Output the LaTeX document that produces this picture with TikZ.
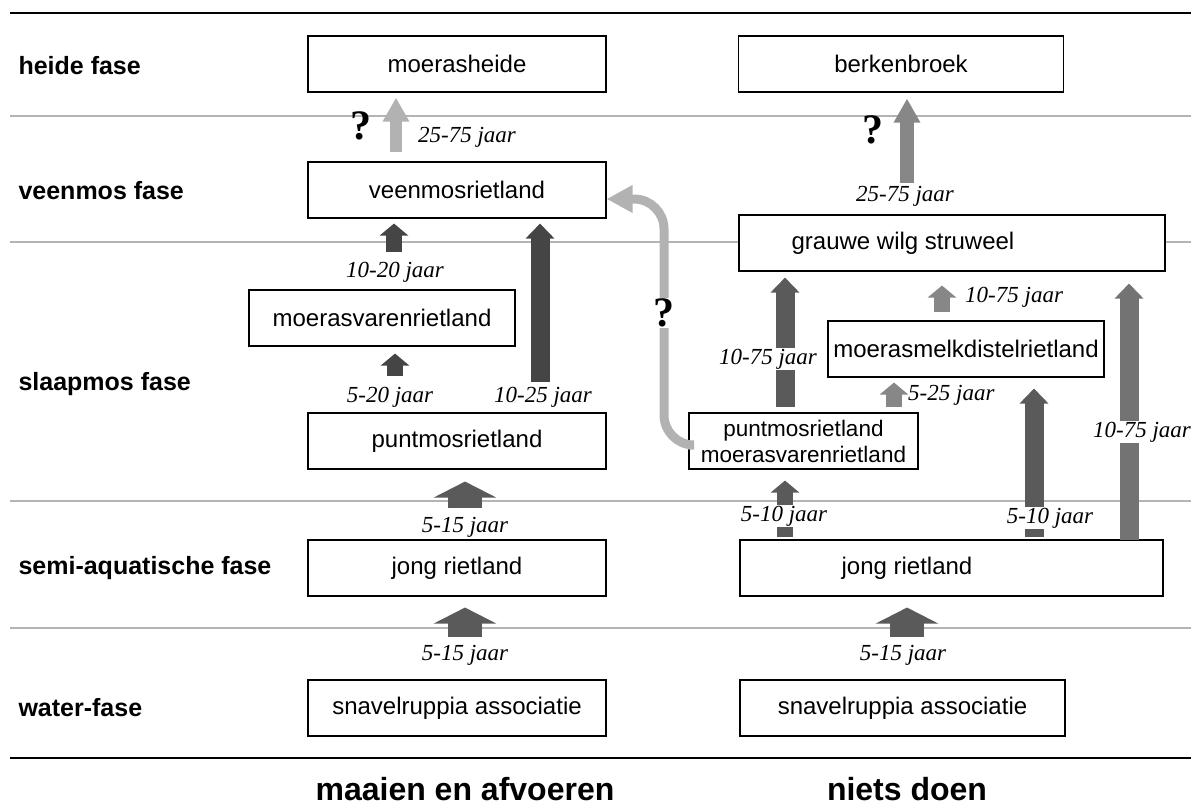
\documentclass[tikz,border=0pt]{standalone}
\usepackage{fontspec}
\setmainfont{Liberation Serif}
\setsansfont{Liberation Sans}
\usetikzlibrary{arrows.meta,calc,positioning}
\definecolor{phaseline}{HTML}{B4B4B4}
\definecolor{arrblack}{HTML}{454545}
\definecolor{arrdark}{HTML}{5A5A5A}
\definecolor{arrmid}{HTML}{878787}
\definecolor{arrpale}{HTML}{B2B2B2}

\begin{document}
\begin{tikzpicture}[x=1pt,y=-1pt,
  box/.style={draw=black,line width=1.1pt,fill=white,inner sep=0pt,minimum height=56pt,
    font=\sffamily\fontsize{24}{28}\selectfont},
  boxtext/.style={font=\sffamily\fontsize{24}{28}\selectfont,inner sep=0pt},
  phase/.style={anchor=west,font=\sffamily\bfseries\fontsize{25}{30}\selectfont},
  title/.style={font=\sffamily\bfseries\fontsize{32}{36}\selectfont},
  yrs/.style={font=\itshape\fontsize{23}{27}\selectfont,inner sep=1pt},
  yrscut/.style={yrs,fill=white},
  qmark/.style={font=\bfseries\fontsize{42}{46}\selectfont,inner sep=1pt},
  wide/.style={-{Triangle[width=62pt,length=16pt]},line width=34pt},
  stub/.style={-{Triangle[width=28pt,length=12pt]},line width=16pt},
  tall/.style={-{Triangle[width=28pt,length=15pt]},line width=19pt},
  needle/.style={-{Triangle[width=25pt,length=24pt]},line width=12pt},
  sweep/.style={-{Triangle[width=26pt,length=26pt]},line width=9pt,rounded corners=30pt}]
  \useasboundingbox (0,0) rectangle (1191,808);

  % rules and phase lines
  \draw[line width=2.2pt] (10,13) -- (1191,13);
  \draw[line width=2.2pt] (10,758) -- (1191,758);
  \foreach \y in {116,242,501,628}
    \draw[phaseline,line width=1.3pt] (10,\y) -- (1191,\y);

  % phases
  \node[phase] (heide) at (15,66) {heide fase};
  \node[phase] (veen) at (15,191) {veenmos fase};
  \node[phase] (slaap) at (15,384) {slaapmos fase};
  \node[phase] (semi) at (15,568) {semi-aquatische fase};
  \node[phase] (water) at (15,708) {water-fase};

  % left column: maaien en afvoeren
  \node[box,minimum width=298pt] (heath) at (457,64) {moerasheide};
  \node[box,minimum width=298pt] (sphag) at (457,190) {veenmosrietland};
  \node[box,minimum width=266pt] (fern) at (382,318) {moerasvarenrietland};
  \node[box,minimum width=298pt] (calli) at (457,441) {puntmosrietland};
  \node[box,minimum width=298pt] (reedL) at (457,568) {jong rietland};
  \node[box,minimum width=298pt] (ruppL) at (457,708) {snavelruppia associatie};

  % right column: niets doen
  \node[box,minimum width=325pt] (birch) at (901,64) {berkenbroek};
  \node[box,minimum width=426pt] (willow) at (952,243) {};
  \node[boxtext] (willowtxt) at (903,243) {grauwe wilg struweel};
  \node[box,minimum width=229pt,align=center,font=\sffamily\fontsize{22.5}{26}\selectfont]
    (mixed) at (803.5,441) {puntmosrietland\\moerasvarenrietland};
  \node[box,minimum width=276pt] (thistle) at (966,349) {moerasmelkdistelrietland};
  \node[box,minimum width=423pt] (reedR) at (951.5,568) {};
  \node[boxtext] (reedRtxt) at (907,568) {jong rietland};
  \node[box,minimum width=325pt] (ruppR) at (902.5,708) {snavelruppia associatie};

  % left arrows
  \coordinate (sL1) at (396,152);
  \draw[needle,arrpale,shorten >=5pt] (sL1) -- (sL1 |- heath.south);
  \node[qmark] (qL) at (361,126) {?};
  \node[yrs] (tL1) at (467,137) {25-75 jaar};

  \coordinate (sL2) at (394,252);
  \draw[stub,arrblack,shorten >=5pt] (sL2) -- (sL2 |- sphag.south);
  \node[yrs] (tL2) at (395,272) {10-20 jaar};

  \coordinate (sL3) at (395,376);
  \draw[stub,arrblack,shorten >=7pt] (sL3) -- (sL3 |- fern.south);
  \node[yrs] (tL3) at (390,397) {5-20 jaar};

  \coordinate (sL4) at (540,382);
  \draw[tall,arrblack,shorten >=5pt] (sL4) -- (sL4 |- sphag.south);
  \node[yrs] (tL4) at (543,397) {10-25 jaar};

  \coordinate (sL5) at (465,508);
  \draw[wide,arrdark,shorten >=12pt] (sL5) -- (sL5 |- calli.south);
  \node[yrs] (tL5) at (465,527) {5-15 jaar};

  \coordinate (sL6) at (465,637);
  \draw[wide,arrdark,shorten >=11pt] (sL6) -- (sL6 |- reedL.south);
  \node[yrs] (tL6) at (465,655) {5-15 jaar};

  % right arrows
  \coordinate (sR1) at (907,183);
  \draw[needle,arrmid,line width=14pt,shorten >=6pt] (sR1) -- (sR1 |- birch.south);
  \node[qmark] (qR) at (873,130) {?};
  \node[yrs] (tR1) at (905,196) {25-75 jaar};

  \coordinate (sR2) at (785,407);
  \draw[tall,arrdark,shorten >=6pt] (sR2) -- (sR2 |- willow.south);
  \node[yrscut] (tR2) at (768,359) {10-75 jaar};

  \coordinate (sR3) at (785,537);
  \draw[stub,arrdark,shorten >=11pt] (sR3) -- (sR3 |- mixed.south);
  \node[yrscut] (tR3) at (784,516) {5-10 jaar};

  \coordinate (sR4) at (942,312);
  \draw[stub,arrmid,shorten >=14pt] (sR4) -- (sR4 |- willow.south);
  \node[yrs,anchor=west] (tR4) at (964,297) {10-75 jaar};

  \coordinate (sR5) at (894,407);
  \draw[stub,arrmid,shorten >=5pt] (sR5) -- (sR5 |- thistle.south);
  \node[yrs,anchor=west] (tR5) at (907,395) {5-25 jaar};

  \coordinate (sR6) at (1034,537);
  \draw[tall,arrdark,shorten >=11pt] (sR6) -- (sR6 |- thistle.south);
  \node[yrscut] (tR6) at (1050,518) {5-10 jaar};

  \coordinate (sR7) at (1129,540);
  \draw[tall,arrdark!85,shorten >=12pt] (sR7) -- (sR7 |- willow.south);
  \node[yrscut] (tR7) at (1142,432) {10-75 jaar};

  \coordinate (sR8) at (907,637);
  \draw[wide,arrdark,shorten >=11pt] (sR8) -- (sR8 |- reedR.south);
  \node[yrs] (tR8) at (903,655) {5-15 jaar};

  % back to veenmos
  \coordinate (bend) at (664,313);
  \draw[sweep,arrpale] ([yshift=-4pt]mixed.west) -| (bend) |- ([yshift=-9pt]sphag.east);
  \node[qmark,fill=white] (qC) at (bend) {?};

  % management
  \node[title] (mow) at (465,789) {maaien en afvoeren};
  \node[title] (idle) at (907,789) {niets doen};
\end{tikzpicture}
\end{document}
